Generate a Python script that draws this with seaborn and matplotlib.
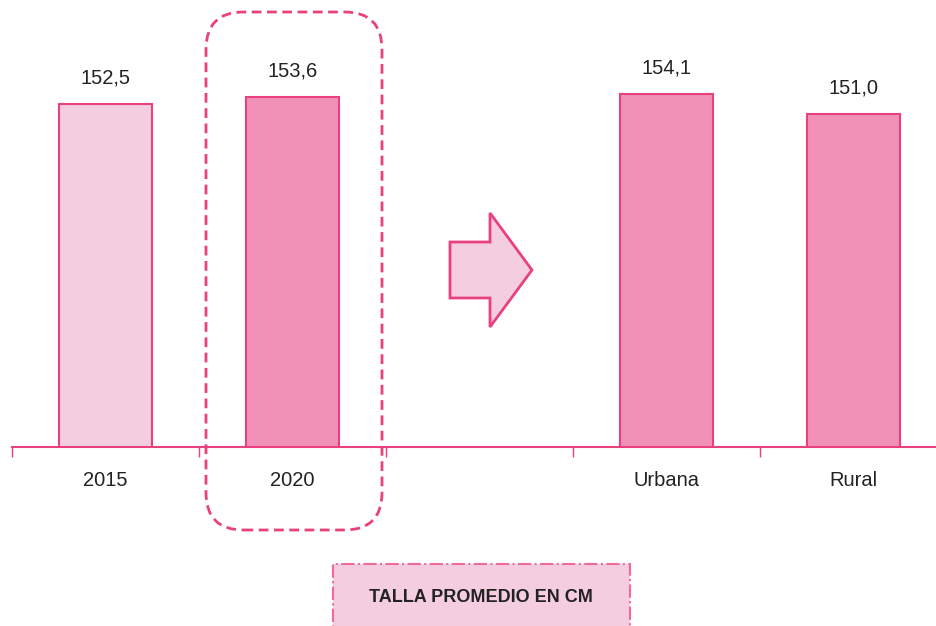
import seaborn as sns
import pandas as pd
import matplotlib.pyplot as plt
from matplotlib.patches import FancyBboxPatch, Polygon, Rectangle
from matplotlib.ticker import FixedLocator

# chart data
categories = ["2015", "2020", "Urbana", "Rural"]
talla = [152.5, 153.6, 154.1, 151.0]
order = ["2015", "2020", " ", "Urbana", "Rural"]

light = "#F4CDE0"
pink = "#F291B7"
edge = "#E9407F"
palette = {"2015": light, "2020": pink, "Urbana": pink, "Rural": pink}

sns.set_theme(style="white")
plt.rcParams['font.family'] = ['Liberation Sans', 'DejaVu Sans']

df = pd.DataFrame({"Categoria": categories, "Talla": talla})

fig = plt.figure(figsize=(9.37, 6.26), dpi=100)
W, H = 937, 626
# axes from pixel x=12 to 947, baseline at y=447, top at y=0
ax = fig.add_axes([12 / W, (H - 447) / H, 935 / W, 447 / H])

sns.barplot(data=df, x="Categoria", y="Talla", order=order, hue="Categoria",
            palette=palette, legend=False, width=0.5, edgecolor=edge,
            linewidth=1.5, ax=ax, saturation=1)

for cont in ax.containers:
    ax.bar_label(cont, labels=[f"{b.get_height():.1f}".replace(".", ",") for b in cont],
                 padding=12, fontsize=14.5, color="#222222")

ax.set_ylim(99.4, 168.7)
ax.set_xlim(-0.5, 4.5)
ax.set(xlabel="", ylabel="")
ax.set_yticks([])
for s in ["top", "right", "left"]:
    ax.spines[s].set_visible(False)
ax.spines["bottom"].set_color(edge)
ax.spines["bottom"].set_linewidth(1.5)
ax.tick_params(axis="x", which="major", length=0, labelsize=14.5, labelcolor="#222222", pad=17)
ax.xaxis.set_minor_locator(FixedLocator([-0.5, 0.5, 1.5, 2.5, 3.5, 4.5]))
ax.tick_params(axis="x", which="minor", length=7, width=1, color=edge, bottom=True)

# dashed rounded box around 2020
fig.add_artist(FancyBboxPatch((206 / W, (H - 530) / H), 176 / W, 518 / H,
                              boxstyle="round,pad=0,rounding_size=0.04",
                              transform=fig.transFigure, fill=False,
                              edgecolor=edge, linewidth=2, linestyle=(0, (3.5, 2)),
                              mutation_aspect=W / H))

# arrow
pts = [(450, 242), (490, 242), (490, 213), (532, 270), (490, 327), (490, 298), (450, 298)]
fig.add_artist(Polygon([(x / W, (H - y) / H) for x, y in pts], closed=True,
                       transform=fig.transFigure, facecolor=light, edgecolor=edge,
                       linewidth=2))

# bottom title box
fig.add_artist(Rectangle((333 / W, -0.01), 297 / W, (H - 564) / H + 0.01,
                         transform=fig.transFigure, facecolor=light,
                         edgecolor="#EE6A9C", linewidth=1.5, linestyle="-."))
fig.text(481 / W, (H - 597) / H, "TALLA PROMEDIO EN CM", ha="center", va="center",
         fontsize=13, fontweight="bold", color="#222222")

fig.savefig("out.png", dpi=100)
